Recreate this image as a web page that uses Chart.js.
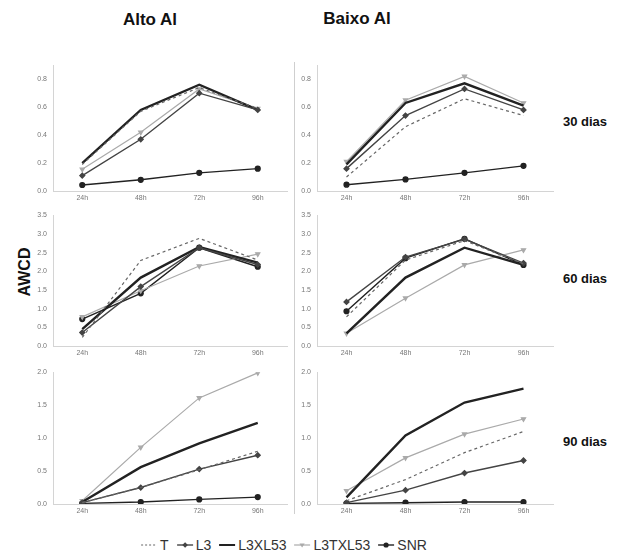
<!DOCTYPE html>
<html>
<head>
<meta charset="utf-8">
<script src="https://cdn.jsdelivr.net/npm/chart.js@4/dist/chart.umd.min.js"></script>
<style>
  body { margin: 0; background: #fff; font-family: Arial, "Liberation Sans", sans-serif; }
  #page { position: relative; width: 631px; height: 555px; overflow: hidden; }
  .box { position: absolute; }
  .title { position: absolute; font-weight: bold; font-size: 17px; color: #111; transform: translateX(-50%); }
  .rowlab { position: absolute; font-weight: bold; font-size: 13px; color: #111; transform: translate(-50%, -50%); white-space: nowrap; }
  #awcd { position: absolute; left: 25px; top: 272px; font-weight: bold; font-size: 16px; color: #111;
          transform: translate(-50%, -50%) rotate(-90deg); }
  #sep { position: absolute; left: 294px; top: 62px; width: 1px; height: 452px; background: #cfcfcf; }
  #legend { position: absolute; left: 287px; top: 537px; transform: translateX(-50%); font-size: 14px; color: #333;
            white-space: nowrap; display: flex; align-items: center; }
  #legend span.item { display: inline-flex; align-items: center; margin-right: 7px; }
  #legend svg { margin-right: 2px; }
</style>
</head>
<body>
<div id="page">
  <div class="title" style="left:150px; top:10px;">Alto Al</div>
  <div class="title" style="left:357px; top:9px;">Baixo Al</div>
  <div id="awcd">AWCD</div>
  <div class="rowlab" style="left:585px; top:121px;">30 dias</div>
  <div class="rowlab" style="left:585px; top:278px;">60 dias</div>
  <div class="rowlab" style="left:585px; top:441px;">90 dias</div>
  <div id="sep"></div>

  <div class="box" style="left:20px; top:55px;"><canvas id="c1" width="275" height="156"></canvas></div>
  <div class="box" style="left:295px; top:55px;"><canvas id="c2" width="266" height="156"></canvas></div>
  <div class="box" style="left:20px; top:205px;"><canvas id="c3" width="275" height="161"></canvas></div>
  <div class="box" style="left:295px; top:205px;"><canvas id="c4" width="266" height="161"></canvas></div>
  <div class="box" style="left:20px; top:362px;"><canvas id="c5" width="275" height="162"></canvas></div>
  <div class="box" style="left:295px; top:362px;"><canvas id="c6" width="266" height="162"></canvas></div>

  <div id="legend"></div>
</div>

<script>
const hours = ["24h", "48h", "72h", "96h"];
const seriesNames = ["T", "L3", "L3XL53", "L3TXL53", "SNR"];

// values per panel, one row per series in seriesNames order
const alto30 = [
  [0.19, 0.57, 0.74, 0.59],
  [0.11, 0.37, 0.70, 0.58],
  [0.20, 0.58, 0.76, 0.58],
  [0.155, 0.42, 0.73, 0.59],
  [0.043, 0.08, 0.13, 0.16]
];
const baixo30 = [
  [0.10, 0.46, 0.66, 0.54],
  [0.16, 0.54, 0.73, 0.58],
  [0.19, 0.63, 0.77, 0.61],
  [0.21, 0.65, 0.82, 0.63],
  [0.045, 0.083, 0.13, 0.18]
];
const alto60 = [
  [0.23, 2.29, 2.88, 2.30],
  [0.36, 1.59, 2.63, 2.18],
  [0.45, 1.83, 2.65, 2.23],
  [0.78, 1.48, 2.14, 2.46],
  [0.72, 1.41, 2.63, 2.12]
];
const baixo60 = [
  [0.78, 2.30, 2.82, 2.20],
  [1.18, 2.38, 2.86, 2.22],
  [0.34, 1.83, 2.63, 2.17],
  [0.34, 1.28, 2.17, 2.57],
  [0.93, 2.35, 2.87, 2.17]
];
const alto90 = [
  [0.02, 0.25, 0.52, 0.80],
  [0.02, 0.25, 0.53, 0.74],
  [0.03, 0.56, 0.92, 1.23],
  [0.05, 0.86, 1.61, 1.99],
  [0.01, 0.03, 0.07, 0.105]
];
const baixo90 = [
  [0.05, 0.37, 0.78, 1.10],
  [0.02, 0.21, 0.47, 0.66],
  [0.10, 1.04, 1.54, 1.75],
  [0.20, 0.70, 1.06, 1.29],
  [0.01, 0.02, 0.03, 0.03]
];

const yTicks30 = [0, 0.2, 0.4, 0.6, 0.8];
const yTicks60 = [0, 0.5, 1.0, 1.5, 2.0, 2.5, 3.0, 3.5];
const yTicks90 = [0, 0.5, 1.0, 1.5, 2.0];

// line look for each series
const styles = [
  { color: "#666", width: 1.2, dash: [3, 3], point: false, pointStyle: "circle" },
  { color: "#444", width: 1.4, dash: [], point: true, pointStyle: "rectRot" },
  { color: "#222", width: 2.4, dash: [], point: false, pointStyle: "line" },
  { color: "#aaa", width: 1.2, dash: [], point: true, pointStyle: "triangle" },
  { color: "#222", width: 1.4, dash: [], point: true, pointStyle: "circle" }
];

function makeChart(id, values, yMax, yTicks, yWidth, padTop) {
  const ctx = document.getElementById(id).getContext("2d");
  return new Chart(ctx, {
    type: "line",
    data: {
      labels: hours,
      datasets: values.map((v, i) => ({
        label: seriesNames[i],
        data: v,
        borderColor: styles[i].color,
        backgroundColor: styles[i].color,
        borderWidth: styles[i].width,
        borderDash: styles[i].dash,
        pointRadius: styles[i].point ? 2.4 : 0,
        pointStyle: styles[i].pointStyle,
        pointRotation: styles[i].pointStyle === "triangle" ? 180 : 0,
        tension: 0,
        fill: false
      }))
    },
    options: {
      responsive: false,
      animation: false,
      layout: { padding: { top: padTop, right: 8, bottom: 0, left: 0 } },
      plugins: { legend: { display: false }, tooltip: { enabled: false } },
      scales: {
        x: {
          offset: true,
          grid: { display: false, drawTicks: false, tickLength: 0 },
          border: { display: true, color: "#d4d4d4" },
          ticks: { color: "#777", font: { size: 7 }, padding: 3, maxRotation: 0 },
          afterFit: (s) => { s.height = 20; }
        },
        y: {
          min: 0,
          max: yMax,
          grid: { display: false, drawTicks: false, tickLength: 0 },
          border: { display: true, color: "#d4d4d4" },
          afterBuildTicks: (axis) => { axis.ticks = yTicks.map(v => ({ value: v })); },
          ticks: { color: "#777", font: { size: 7 }, padding: 6, callback: (v) => Number(v).toFixed(1) },
          afterFit: (s) => { s.width = yWidth; }
        }
      }
    }
  });
}

makeChart("c1", alto30, 0.9, yTicks30, 33, 10);
makeChart("c2", baixo30, 0.9, yTicks30, 22, 10);
makeChart("c3", alto60, 3.5, yTicks60, 33, 2);
makeChart("c4", baixo60, 3.5, yTicks60, 22, 2);
makeChart("c5", alto90, 2.0, yTicks90, 33, 3);
makeChart("c6", baixo90, 2.0, yTicks90, 22, 3);

// legend under the grid
const legend = document.getElementById("legend");
seriesNames.forEach((name, i) => {
  const st = styles[i];
  const item = document.createElement("span");
  item.className = "item";
  let mark = "";
  if (st.point) {
    if (st.pointStyle === "circle") mark = `<circle cx="9" cy="7" r="2.6" fill="${st.color}"/>`;
    if (st.pointStyle === "rectRot") mark = `<path d="M9 4.2 L11.8 7 L9 9.8 L6.2 7 Z" fill="${st.color}"/>`;
    if (st.pointStyle === "triangle") mark = `<path d="M6.4 5.5 L11.6 5.5 L9 9.5 Z" fill="${st.color}"/>`;
  }
  item.innerHTML = `<svg width="18" height="14"><line x1="1" y1="7" x2="17" y2="7" stroke="${st.color}" stroke-width="${Math.min(st.width, 2)}" stroke-dasharray="${st.dash.length ? '2,2' : ''}"/>${mark}</svg>${name}`;
  legend.appendChild(item);
});
</script>
</body>
</html>
